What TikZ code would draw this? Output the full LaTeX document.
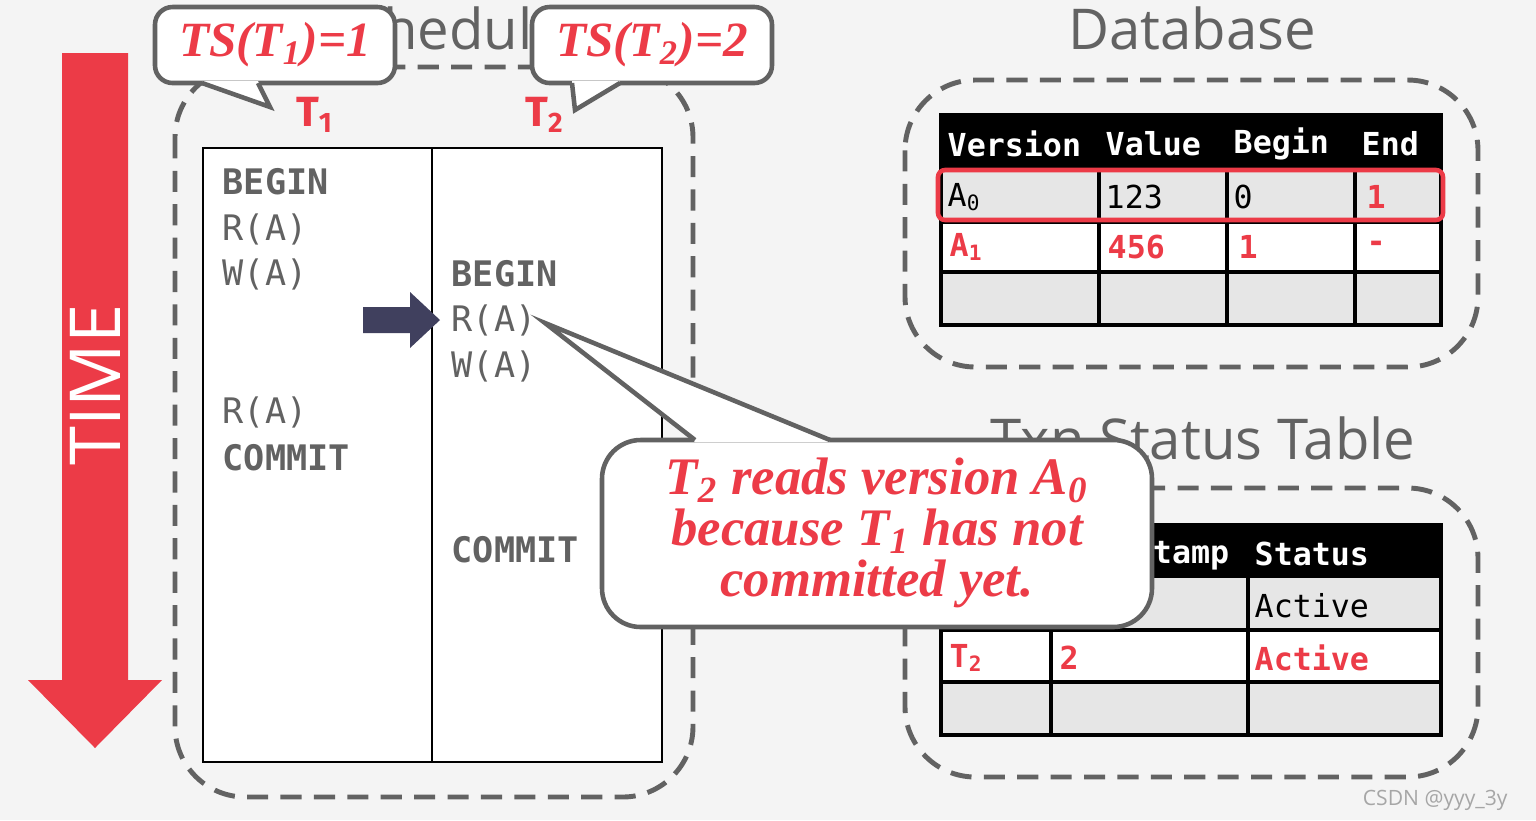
\documentclass[tikz,border=0pt]{standalone}
\usepackage{fontspec}
\setmainfont{Liberation Serif}
\newfontfamily\titlefont{Open Sans}
\newfontfamily\opfont{DejaVu Sans Mono}
\newfontfamily\labfont{Fira Sans}
\usetikzlibrary{positioning}
\definecolor{cred}{HTML}{EC3B47}
\definecolor{cgray}{HTML}{626262}
\definecolor{cnavy}{HTML}{40405E}
\definecolor{cbg}{HTML}{F4F4F4}
\definecolor{ccell}{HTML}{E6E6E6}
\begin{document}
\begin{tikzpicture}[x=0.01cm,y=-0.01cm,
    frame/.style={draw=cgray,line width=1.4pt,dash pattern=on 6pt off 3.5pt,rounded corners=20},
    title/.style={font=\titlefont\fontsize{16}{16}\selectfont,text=cgray},
    op/.style={anchor=west,font=\opfont\fontsize{10}{10}\selectfont,text=cgray,inner sep=0pt},
    bop/.style={op,font=\opfont\bfseries\fontsize{10}{10}\selectfont},
    txn/.style={font=\labfont\bfseries\fontsize{12}{12}\selectfont,text=cred},
    bubble/.style={draw=cgray,fill=white,line width=1.3pt,rounded corners=5},
    tail/.style={draw=cgray,line width=1.3pt,line join=miter},
    ts/.style={font=\bfseries\itshape\fontsize{14}{14}\selectfont,text=cred},
    cell/.style={anchor=west,font=\opfont\fontsize{9}{9}\selectfont,inner sep=0pt},
    hcell/.style={cell,font=\opfont\bfseries\fontsize{9}{9}\selectfont,text=white},
    rcell/.style={cell,font=\opfont\bfseries\fontsize{9}{9}\selectfont,text=cred}]

\fill[cbg] (0,0) rectangle (1536,820);
\useasboundingbox (0,0) rectangle (1536,820);

% time arrow
\fill[cred] (62,53) -- (128,53) -- (128,680) -- (162,680) -- (95,748) -- (28,680) -- (62,680) -- cycle;
\node[rotate=90,text=white,font=\titlefont\fontsize{20}{20}\selectfont] (time) at (95,385) {TIME};

% schedule
\node[title] (schedtitle) at (445,28) {Schedule};
\draw[frame] (175,67) rectangle (693,797);
\draw[fill=white,line width=0.8pt] (203,148) rectangle (662,762);
\draw[line width=0.8pt] (432,148) -- (432,762);
\node[txn] (t1) at (315,115) {T\textsubscript{1}};
\node[txn] (t2) at (545,115) {T\textsubscript{2}};

\node[bop] (a1) at (222,182) {BEGIN};
\node[op] (a2) at (222,229) {R(A)};
\node[op] (a3) at (222,274) {W(A)};
\node[op] (a4) at (222,412) {R(A)};
\node[bop] (a5) at (222,458) {COMMIT};

\node[bop] (b1) at (451,274) {BEGIN};
\node[op] (b2) at (451,320) {R(A)};
\node[op] (b3) at (451,366) {W(A)};
\node[bop] (b4) at (451,550) {COMMIT};

% pointer arrow
\fill[cnavy] (363,307) -- (410,307) -- (410,292) -- (440,320) -- (410,348) -- (410,333) -- (363,333) -- cycle;

% database
\node[title] (dbtitle) at (1192,28) {Database};
\draw[frame] (905,80) rectangle (1478,367);
\fill[black] (941,115) rectangle (1441,170);
\fill[ccell] (941,170) rectangle (1441,222);
\fill[white] (941,222) rectangle (1441,272);
\fill[ccell] (941,272) rectangle (1441,325);
\draw[line width=1pt] (941,115) rectangle (1441,325);
\foreach \y in {222,272} \draw[line width=1pt] (941,\y) -- (1441,\y);
\foreach \x in {1099,1227,1355} \draw[line width=1pt] (\x,170) -- (\x,325);
\node[hcell] (hv) at (947,144) {Version};
\node[hcell] (hval) at (1105,144) {Value};
\node[hcell] (hb) at (1233,144) {Begin};
\node[hcell] (he) at (1361,144) {End};
\node[cell] (v0) at (947,197) {A\textsubscript{0}};
\node[cell] (v0val) at (1105,197) {123};
\node[cell] (v0b) at (1233,197) {0};
\node[rcell] (v0e) at (1366,197) {1};
\node[rcell] (v1) at (949,247) {A\textsubscript{1}};
\node[rcell] (v1val) at (1107,247) {456};
\node[rcell] (v1b) at (1238,247) {1};
\node[rcell] (v1e) at (1366,247) {-};
\draw[cred,line width=1.3pt,rounded corners=2] (938,170) rectangle (1443,220);

% txn status table
\node[title] (sttitle) at (1203,438) {Txn Status Table};
\draw[frame] (905,488) rectangle (1478,777);
\fill[black] (941,525) rectangle (1441,578);
\fill[ccell] (941,578) rectangle (1441,630);
\fill[white] (941,630) rectangle (1441,682);
\fill[ccell] (941,682) rectangle (1441,735);
\draw[line width=1pt] (941,525) rectangle (1441,735);
\foreach \y in {630,682} \draw[line width=1pt] (941,\y) -- (1441,\y);
\foreach \x in {1051,1248} \draw[line width=1pt] (\x,578) -- (\x,735);
\node[hcell] (ht) at (947,554) {Txn};
\node[hcell] (hts) at (1057,554) {Timestamp};
\node[hcell] (hs) at (1254,554) {Status};
\node[cell] (r1) at (947,606) {T\textsubscript{1}};
\node[cell] (r1ts) at (1059,606) {1};
\node[cell] (r1s) at (1254,606) {Active};
\node[rcell] (r2) at (949,658) {T\textsubscript{2}};
\node[rcell] (r2ts) at (1059,658) {2};
\node[rcell] (r2s) at (1254,658) {Active};

% callouts
\draw[bubble] (155,7) rectangle (395,83);
\fill[white] (258,81) -- (270,107) -- (202,81) -- cycle;
\draw[tail] (258,83) -- (270,107) -- (202,83);
\node[ts] (ts1) at (275,45) {TS(T\textsubscript{1})=1};
\draw[bubble] (532,7) rectangle (772,83);
\fill[white] (620,81) -- (575,110) -- (572,81) -- cycle;
\draw[tail] (620,83) -- (575,110) -- (572,83);
\node[ts] (ts2) at (652,45) {TS(T\textsubscript{2})=2};
\draw[bubble,rounded corners=11] (602,440) rectangle (1152,627);
\fill[white] (695,442) -- (545,323) -- (830,442) -- cycle;
\draw[tail] (695,440) -- (545,323) -- (830,440);
\node[ts,align=center,font=\bfseries\itshape\fontsize{15}{14.5}\selectfont] (note) at (877,533)
  {T\textsubscript{2} reads version A\textsubscript{0}\\ because T\textsubscript{1} has not\\ committed yet.};

\node[anchor=east,text=gray!70,font=\titlefont\fontsize{6}{6}\selectfont] (wm) at (1520,800) {CSDN @yyy\_3y};
\end{tikzpicture}
\end{document}
